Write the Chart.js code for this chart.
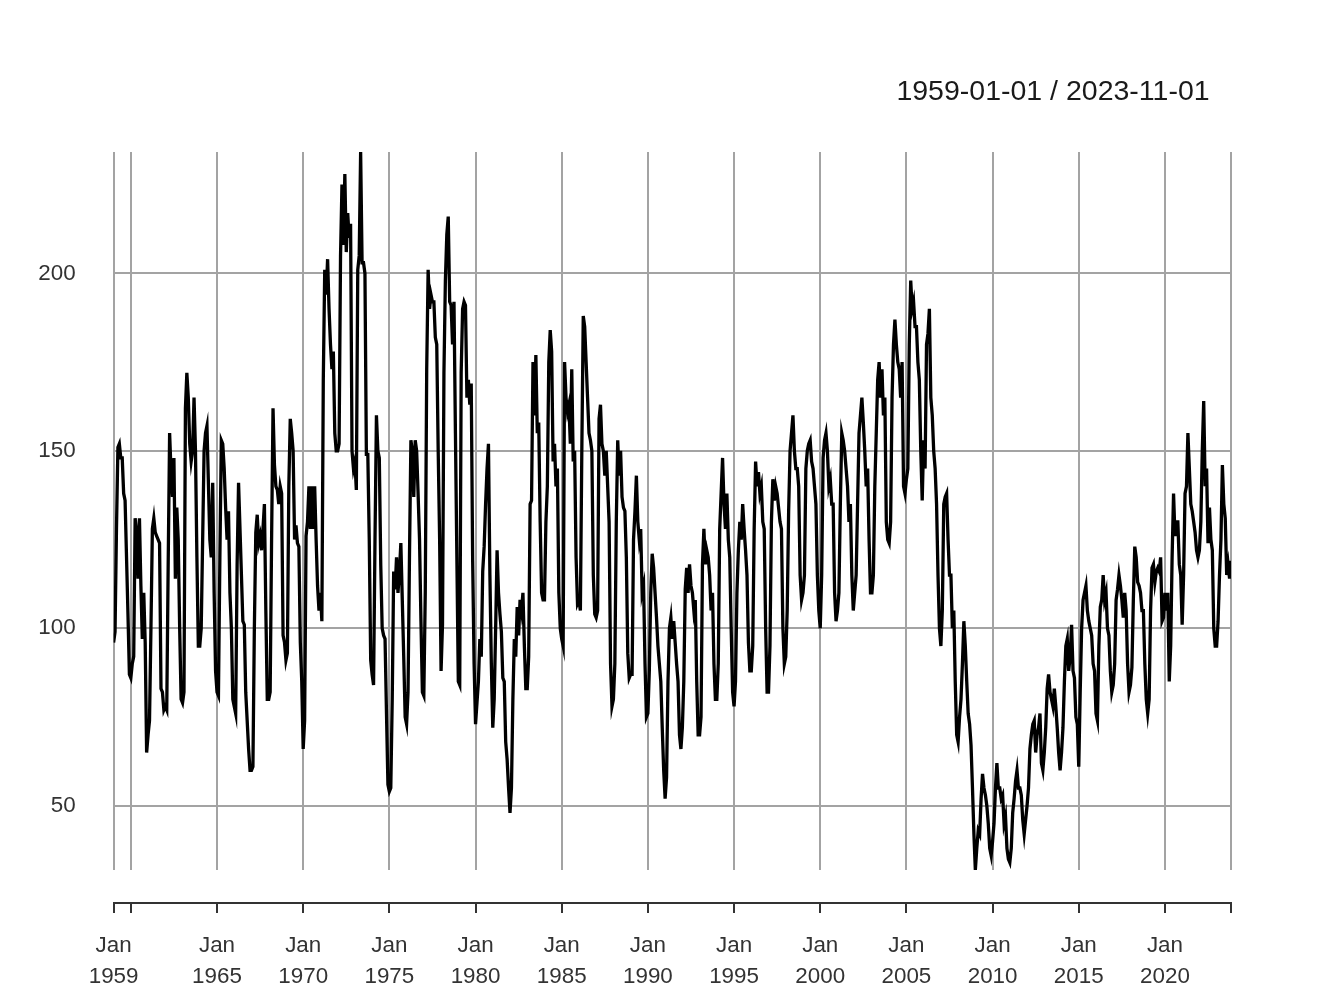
<!DOCTYPE html>
<html><head><meta charset="utf-8">
<script src="https://cdn.jsdelivr.net/npm/chart.js@4"></script>
<style>html,body{margin:0;padding:0;background:#fff;}canvas{display:block;}</style>
</head><body>
<canvas id="c" width="1344" height="1008"></canvas>
<script>
const titleText = "1959-01-01 / 2023-11-01";
const startYear = 1959;
// monthly values, Jan 1959 .. Nov 2023
const v1959_1968 = [
96,99,128,151,152,148,148,138,136,120,104,87,
86,90,92,131,127,114,131,112,97,110,96,65,
70,74,100,128,131,127,126,125,124,83,82,77,
78,77,118,155,144,137,148,114,134,125,100,80,
79,82,162,172,165,152,147,150,165,150,120,95,
95,100,125,150,155,157,141,125,120,141,110,88,
82,81,120,153,152,145,134,125,133,110,100,80,
78,76,118,141,128,115,102,101,82,74,66,60,
60,61,100,127,132,124,126,122,128,135,105,80,
80,82,125,162,146,140,139,135,140,138,98,96];
const v1969_1978 = [
91,93,140,159,155,150,125,129,124,123,96,85,
66,74,126,130,140,128,140,128,140,125,112,105,
110,102,170,201,194,204,190,180,173,178,155,150,
150,152,205,225,208,228,206,217,210,214,150,145,
147,139,201,205,234.2,203,203,200,149,149,125,91,
87,84,125,160,150,148,118,100,98,97,76,56,
54,55,80,116,111,120,110,116,124,108,92,75,
73,82,120,153,150,137,153,150,138,125,102,82,
81,110,173,201,190,194,192,192,182,180,150,125,
88,101,172,198,211,216,192,191,180,192,155,120];
const v1979_1988 = [
85,84,172,190,192,191,165,170,163,169,119,90,
73,79,85,97,92,116,123,135,145,152,115,90,
72,80,100,122,110,104,99,86,85,68,63,55,
48,55,80,97,92,106,98,108,105,110,95,83,
83,92,135,136,175,160,177,155,158,130,110,108,
108,130,140,175,184,178,147,152,140,145,110,100,
97,95,175,165,161,163,152,173,147,150,120,107,
108,105,150,188,185,175,165,155,153,150,115,104,
103,105,159,163,152,150,143,150,140,130,90,78,
80,90,130,153,143,150,137,134,133,120,93,86];
const v1989_1998 = [
87,87,125,133,143,130,125,128,110,112,90,75,
76,88,110,121,117,110,103,95,90,85,72,60,
52,58,85,100,103,97,102,96,90,85,70,66,
72,85,111,117,110,118,112,110,105,108,85,70,
70,75,118,128,118,122,120,115,105,110,90,80,
80,90,128,138,148,135,128,138,125,120,100,82,
78,85,110,122,130,125,135,128,122,115,96,88,
88,95,128,147,140,144,138,140,130,128,100,82,
82,95,130,142,136,140,138,134,130,128,100,90,
92,105,133,150,155,160,150,145,145,140,115,108];
const v1999_2008 = [
110,115,145,150,152,153,147,145,140,135,115,105,
100,115,148,153,155,150,140,142,135,135,110,102,
105,110,135,155,153,150,145,140,130,135,115,105,
110,115,135,155,160,165,158,150,140,145,125,110,
110,115,140,155,170,175,165,173,160,165,130,125,
124,130,165,180,187,180,175,173,165,175,140,138,
142,145,180,198,190,192,185,185,175,170,150,136,
153,145,180,183,190,165,160,150,145,135,115,100,
95,105,135,137,138,125,115,115,100,105,85,70,
68,75,80,90,102,95,85,76,73,67,55,42];
const v2009_2018 = [
31.9,38,43,42,52,59,55,53,50,45,38,36,
40,45,55,62,55,55,52,53,45,47,38,35,
34,38,48,52,57,60,55,55,53,46,42,46,
50,55,66,70,73,74,65,70,72,76,62,60,
65,72,83,87,82,80,78,83,78,72,65,60,
65,72,85,95,97,88,92,101,88,86,75,73,
61,82,100,108,110,112,105,102,100,98,90,88,
76,74,95,106,108,115,108,110,100,98,88,82,
84,90,108,111,115,112,108,103,110,105,90,82,
84,89,108,123,120,113,112,110,105,105,90,80];
const v2019_2023 = [
76,80,105,117,118,113,116,117,116,120,102,103,
110,105,110,85,95,120,138,126,130,130,118,115,
101,115,138,140,155,145,135,133,130,127,122,120,
122,130,150,164,140,145,124,134,125,122,100,95,
95,102,115,125,146,135,131,115,118,114,119];

const xTickMonths = [0,12,72,132,192,252,312,372,432,492,552,612,672,732,778];
const xTickLabels = [["Jan","1959"],"",["Jan","1965"],["Jan","1970"],["Jan","1975"],["Jan","1980"],["Jan","1985"],["Jan","1990"],["Jan","1995"],["Jan","2000"],["Jan","2005"],["Jan","2010"],["Jan","2015"],["Jan","2020"],""];
const yTicks = [50,100,150,200];

const values = [].concat(v1959_1968, v1969_1978, v1979_1988, v1989_1998, v1999_2008, v2009_2018, v2019_2023);
const points = values.map((v,i)=>({x:i,y:v}));
const yMin = Math.min(...values), yMax = Math.max(...values);
const lastIdx = values.length - 1;

const titlePlugin = {
  id:'titleText',
  afterDraw(chart){
    const ctx = chart.ctx;
    ctx.save();
    ctx.font = '28.5px "Liberation Sans", Arial, sans-serif';
    ctx.fillStyle = '#1a1a1a';
    ctx.textAlign = 'center';
    ctx.textBaseline = 'middle';
    ctx.fillText(titleText, chart.chartArea.right - 178, 92);
    ctx.restore();
  }
};

const gridColor = '#a3a3a3';
const font = {family:'"Liberation Sans", Arial, sans-serif', size:22.4, lineHeight:31/22.4};

new Chart(document.getElementById('c'), {
  type:'line',
  data:{datasets:[{data:points, borderColor:'#000', borderWidth:3.3, pointRadius:0, tension:0, fill:false, xAxisID:'x', yAxisID:'y'}]},
  options:{
    responsive:false, animation:false, devicePixelRatio:1,
    layout:{padding:{top:152, right:113, left:0, bottom:0}},
    plugins:{legend:{display:false}, tooltip:{enabled:false}, title:{display:false}},
    scales:{
      x:{type:'linear', position:'bottom', min:0, max:lastIdx, weight:0,
        afterBuildTicks(s){ s.ticks = xTickMonths.map(v=>({value:v})); },
        afterFit(s){ s.height = 33; },
        ticks:{display:false},
        grid:{display:true, drawOnChartArea:true, drawTicks:false, color:gridColor, lineWidth:2},
        border:{display:false}},
      xb:{type:'linear', position:'bottom', min:0, max:lastIdx, weight:1,
        afterBuildTicks(s){ s.ticks = xTickMonths.map(v=>({value:v})); },
        afterFit(s){ s.height = 105; },
        ticks:{display:true, autoSkip:false, maxRotation:0, minRotation:0, padding:17.5, color:'#333', font:font,
          callback(v, i){ return xTickLabels[i]; }},
        grid:{display:true, drawOnChartArea:false, drawTicks:true, tickLength:10, color:'#333', lineWidth:2},
        border:{display:true, color:'#333', width:2}},
      y:{type:'linear', position:'left', min:yMin, max:yMax,
        afterBuildTicks(s){ s.ticks = yTicks.map(v=>({value:v})); },
        afterFit(s){ s.width = 113.6; },
        ticks:{padding:38, color:'#333', font:font},
        grid:{color:gridColor, lineWidth:2, drawTicks:false},
        border:{display:false}}
    }
  },
  plugins:[titlePlugin]
});
</script>
</body></html>
